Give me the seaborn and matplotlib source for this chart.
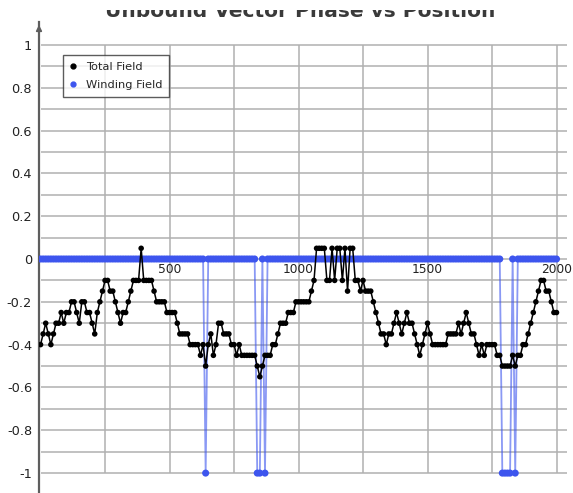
import matplotlib
matplotlib.use("Agg")
import matplotlib.pyplot as plt
from matplotlib.lines import Line2D
from matplotlib.patches import Rectangle
import numpy as np
import pandas as pd
import seaborn as sns

# ---- data -------------------------------------------------------------
# sample positions, every 10 units from 0 to 2000
positions = list(range(0, 2001, 10))

total_field = [
    -0.40, -0.35, -0.30, -0.35, -0.40, -0.35, -0.30, -0.30, -0.25, -0.30,   # 0-90
    -0.25, -0.25, -0.20, -0.20, -0.25, -0.30, -0.20, -0.20, -0.25, -0.25,   # 100-190
    -0.30, -0.35, -0.25, -0.20, -0.15, -0.10, -0.10, -0.15, -0.15, -0.20,   # 200-290
    -0.25, -0.30, -0.25, -0.25, -0.20, -0.15, -0.10, -0.10, -0.10, 0.05,    # 300-390
    -0.10, -0.10, -0.10, -0.10, -0.15, -0.20, -0.20, -0.20, -0.20, -0.25,   # 400-490
    -0.25, -0.25, -0.25, -0.30, -0.35, -0.35, -0.35, -0.35, -0.40, -0.40,   # 500-590
    -0.40, -0.40, -0.45, -0.40, -0.50, -0.40, -0.35, -0.45, -0.40, -0.30,   # 600-690
    -0.30, -0.35, -0.35, -0.35, -0.40, -0.40, -0.45, -0.40, -0.45, -0.45,   # 700-790
    -0.45, -0.45, -0.45, -0.45, -0.50, -0.55, -0.50, -0.45, -0.45, -0.45,   # 800-890
    -0.40, -0.40, -0.35, -0.30, -0.30, -0.30, -0.25, -0.25, -0.25, -0.20,   # 900-990
    -0.20, -0.20, -0.20, -0.20, -0.20, -0.15, -0.10, 0.05, 0.05, 0.05,      # 1000-1090
    0.05, -0.10, -0.10, 0.05, -0.10, 0.05, 0.05, -0.10, 0.05, -0.15,        # 1100-1190
    0.05, 0.05, -0.10, -0.10, -0.15, -0.10, -0.15, -0.15, -0.15, -0.20,     # 1200-1290
    -0.25, -0.30, -0.35, -0.35, -0.40, -0.35, -0.35, -0.30, -0.25, -0.30,   # 1300-1390
    -0.35, -0.30, -0.25, -0.30, -0.30, -0.35, -0.40, -0.45, -0.40, -0.35,   # 1400-1490
    -0.30, -0.35, -0.40, -0.40, -0.40, -0.40, -0.40, -0.40, -0.35, -0.35,   # 1500-1590
    -0.35, -0.35, -0.30, -0.35, -0.30, -0.25, -0.30, -0.35, -0.35, -0.40,   # 1600-1690
    -0.45, -0.40, -0.45, -0.40, -0.40, -0.40, -0.40, -0.45, -0.45, -0.50,   # 1700-1790
    -0.50, -0.50, -0.50, -0.45, -0.50, -0.45, -0.45, -0.40, -0.40, -0.35,   # 1800-1890
    -0.30, -0.25, -0.20, -0.15, -0.10, -0.10, -0.15, -0.15, -0.20, -0.25,   # 1900-1990
    -0.25,                                                                   # 2000
]

winding_field = [
    0, 0, 0, 0, 0, 0, 0, 0, 0, 0,       # 0-90
    0, 0, 0, 0, 0, 0, 0, 0, 0, 0,       # 100-190
    0, 0, 0, 0, 0, 0, 0, 0, 0, 0,       # 200-290
    0, 0, 0, 0, 0, 0, 0, 0, 0, 0,       # 300-390
    0, 0, 0, 0, 0, 0, 0, 0, 0, 0,       # 400-490
    0, 0, 0, 0, 0, 0, 0, 0, 0, 0,       # 500-590
    0, 0, 0, 0, -1, 0, 0, 0, 0, 0,      # 600-690
    0, 0, 0, 0, 0, 0, 0, 0, 0, 0,       # 700-790
    0, 0, 0, 0, -1, -1, 0, -1, 0, 0,    # 800-890
    0, 0, 0, 0, 0, 0, 0, 0, 0, 0,       # 900-990
    0, 0, 0, 0, 0, 0, 0, 0, 0, 0,       # 1000-1090
    0, 0, 0, 0, 0, 0, 0, 0, 0, 0,       # 1100-1190
    0, 0, 0, 0, 0, 0, 0, 0, 0, 0,       # 1200-1290
    0, 0, 0, 0, 0, 0, 0, 0, 0, 0,       # 1300-1390
    0, 0, 0, 0, 0, 0, 0, 0, 0, 0,       # 1400-1490
    0, 0, 0, 0, 0, 0, 0, 0, 0, 0,       # 1500-1590
    0, 0, 0, 0, 0, 0, 0, 0, 0, 0,       # 1600-1690
    0, 0, 0, 0, 0, 0, 0, 0, 0, -1,      # 1700-1790
    -1, -1, -1, 0, -1, 0, 0, 0, 0, 0,   # 1800-1890
    0, 0, 0, 0, 0, 0, 0, 0, 0, 0,       # 1900-1990
    0,                                  # 2000
]

series_names = ["Total Field", "Winding Field"]
x_tick_values = [500, 1000, 1500, 2000]
x_tick_labels = ["500", "1000", "1500", "2000"]
y_tick_values = [-1.0, -0.8, -0.6, -0.4, -0.2, 0.0, 0.2, 0.4, 0.6, 0.8, 1.0]
y_tick_labels = ["-1", "-0.8", "-0.6", "-0.4", "-0.2", "0", "0.2", "0.4", "0.6", "0.8", "1"]
title_text = "Unbound Vector Phase vs Position"

# ---- styling ----------------------------------------------------------
sns.set_theme(style="white")
plt.rcParams["font.family"] = ["DejaVu Sans"]

BLUE = "#3d55ee"
GRID = "#b0b0b0"
AXIS = "#5e5e5e"

df = pd.DataFrame({
    "position": positions,
    "total": total_field,
    "winding": winding_field,
})

fig = plt.figure(figsize=(5.73, 4.93), dpi=100)
ax = fig.add_axes([39 / 573, 0.0, 530.4 / 573, 471 / 493])
ax.set_xlim(-6, 2050)
ax.set_ylim(-1.093, 1.107)

# grid confined to the [-1, 1] band
grid_x = np.arange(250, 2001, 250)
grid_y = np.round(np.arange(-1.0, 1.001, 0.1), 2)
ax.vlines(grid_x, -1, 1, colors=GRID, lw=1.1, zorder=0)
ax.hlines(grid_y, 0, 2040, colors=GRID, lw=1.1, zorder=0)

# winding field: thin connecting line plus dense markers
sns.lineplot(data=df, x="position", y="winding", ax=ax, color=BLUE,
             lw=1.3, alpha=0.6, estimator=None, sort=False, zorder=2)
sns.scatterplot(data=df, x="position", y="winding", ax=ax, color=BLUE,
                s=26, edgecolor="none", zorder=3)

# total field
sns.lineplot(data=df, x="position", y="total", ax=ax, color="black",
             lw=1.1, estimator=None, sort=False, zorder=4)
sns.scatterplot(data=df, x="position", y="total", ax=ax, color="black",
                s=16, edgecolor="none", zorder=5)

ax.set_xlabel("")
ax.set_ylabel("")

# axes: left spine with an arrow, x labels sitting on the zero line
for side in ("top", "right"):
    ax.spines[side].set_visible(False)
ax.spines["bottom"].set_position(("data", 0))
ax.spines["bottom"].set_visible(False)
ax.spines["left"].set_color(AXIS)
ax.spines["left"].set_linewidth(1.6)
ax.annotate("", xy=(0, 1.0), xycoords="axes fraction", xytext=(0, 0.975),
            arrowprops=dict(arrowstyle="-|>", color=AXIS, lw=1.3,
                            mutation_scale=8), annotation_clip=False)

ax.set_xticks(x_tick_values)
ax.set_xticklabels(x_tick_labels)
ax.set_yticks(y_tick_values)
ax.set_yticklabels(y_tick_labels)
ax.tick_params(axis="both", length=0, labelcolor="#222222")
ax.tick_params(axis="x", pad=3, labelsize=8.8)
ax.tick_params(axis="y", pad=5, labelsize=9.3)

handles = [
    Line2D([], [], ls="none", marker="o", color="black", markersize=3.5,
           label=series_names[0]),
    Line2D([], [], ls="none", marker="o", color=BLUE, markersize=3.5,
           label=series_names[1]),
]
leg = ax.legend(handles=handles, loc="upper left", bbox_to_anchor=(0.045, 0.93),
                borderaxespad=0, frameon=True, fancybox=False, edgecolor="#333333",
                fontsize=8.2, handlelength=0.6, handletextpad=0.8,
                borderpad=0.6, labelspacing=0.75)
leg.get_frame().set_linewidth(1.0)
leg.set_zorder(10)

# header: only its lower band shows; the top strip of the canvas is blank
fig.text(0.524, 1 - 17 / 493, title_text, ha="center", va="baseline",
         fontsize=14.5, fontweight="bold", color="#3a3a3a", zorder=3)
fig.add_artist(Rectangle((0.0, 1 - 10 / 493), 1.0, 10 / 493,
                         transform=fig.transFigure, facecolor="white",
                         edgecolor="none", zorder=20))

fig.savefig("out.png", dpi=100)
